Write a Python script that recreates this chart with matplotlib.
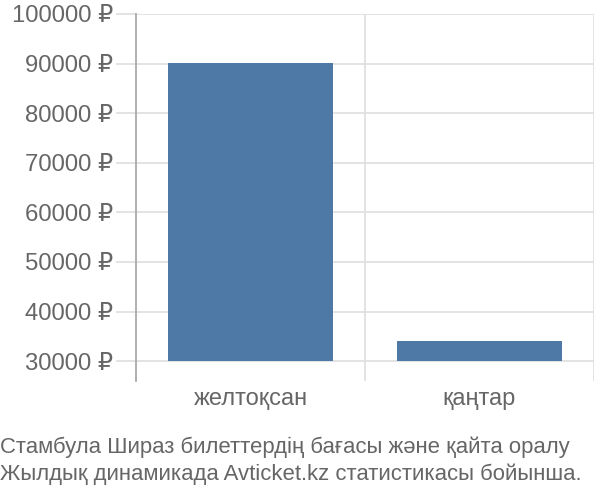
import matplotlib
matplotlib.use("Agg")
import matplotlib.pyplot as plt

plt.rcParams["font.family"] = ["Liberation Sans", "DejaVu Sans"]

months = ["желтоқсан", "қаңтар"]
prices = [90200, 34100]
yticks = [30000, 40000, 50000, 60000, 70000, 80000, 90000, 100000]
caption = ["Стамбула Шираз билеттердің бағасы және қайта оралу",
           "Жылдық динамикада Avticket.kz статистикасы бойынша."]

base = 30000
text_color = "#666666"
grid_color = "#e0e0e0"

fig = plt.figure(figsize=(6, 5), dpi=100)
ax = fig.add_axes([136 / 600, 1 - 381 / 500, (594 - 136) / 600, (381 - 14) / 500])

x = list(range(len(months)))
ax.bar(x, [p - base for p in prices], bottom=base, width=0.72,
       color="#4e78a5", zorder=3)

ax.set_xlim(-0.5, len(months) - 0.5)
ax.set_ylim(26000, 100000)

ax.set_yticks(yticks)
ax.set_yticklabels([f"{v} ₽" for v in yticks])
ax.set_xticks(x)
ax.set_xticklabels(months)

ax.set_xticks([0.5, 1.5], minor=True)
ax.grid(axis="y", color=grid_color, linewidth=1.3, zorder=0)
ax.grid(axis="x", which="minor", color=grid_color, linewidth=1.3, zorder=0)

ax.tick_params(axis="y", length=14.4, color=grid_color, width=1.3,
               labelsize=17.2, labelcolor=text_color, pad=2)
ax.tick_params(axis="x", which="major", length=0, labelsize=17,
               labelcolor=text_color, pad=5)
ax.tick_params(axis="x", which="minor", length=0)

for side in ["top", "right", "bottom"]:
    ax.spines[side].set_visible(False)
ax.spines["left"].set_color("#aaaaaa")
ax.spines["left"].set_linewidth(1.3)

fig.text(0.0, 1 - 447 / 500, caption[0], fontsize=15.9, color=text_color,
         va="center", ha="left")
fig.text(0.0, 1 - 474 / 500, caption[1], fontsize=15.9, color=text_color,
         va="center", ha="left")

fig.savefig("out.png", dpi=100)
